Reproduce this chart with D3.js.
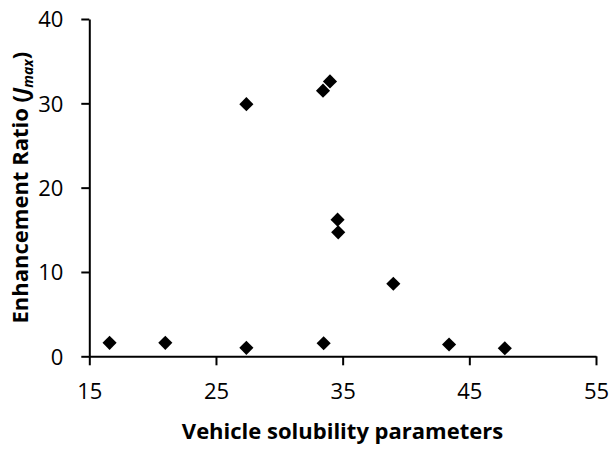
<!DOCTYPE html>
<html>
<head>
<meta charset="utf-8">
<script src="https://cdn.jsdelivr.net/npm/d3@7"></script>
<style>
  html, body { margin: 0; padding: 0; background: #fff; }
  svg { display: block; }
  text { font-family: "Open Sans", "Noto Sans", sans-serif; fill: #000; }
</style>
</head>
<body>
<svg id="chart" width="613" height="450"></svg>
<script>
// Vehicle solubility parameter vs. enhancement ratio (Jmax)
const solubility = [16.6, 21.0, 27.4, 27.4, 33.45, 34.0, 34.6, 34.65, 39.0, 33.5, 43.4, 47.8];
const enhancement = [1.6, 1.6, 1.0, 29.9, 31.5, 32.6, 16.2, 14.7, 8.6, 1.55, 1.4, 0.95];
const xTicks = [15, 25, 35, 45, 55];
const yTicks = [0, 10, 20, 30, 40];

const svg = d3.select("#chart");
const margin = { left: 89.3, right: 17, top: 19, bottom: 93.7 };
const W = 613, H = 450;

const x = d3.scaleLinear().domain([15, 55]).range([margin.left, W - margin.right]);
const y = d3.scaleLinear().domain([0, 40]).range([H - margin.bottom, margin.top]);

// x axis
const xAxis = svg.append("g")
  .attr("transform", `translate(0,${y(0)})`)
  .call(d3.axisBottom(x).tickValues(xTicks).tickSize(9).tickSizeOuter(0).tickPadding(18));
// y axis
const yAxis = svg.append("g")
  .attr("transform", `translate(${x(15)},0)`)
  .call(d3.axisLeft(y).tickValues(yTicks).tickSize(8).tickSizeOuter(0).tickPadding(18));

[xAxis, yAxis].forEach(g => {
  g.selectAll(".domain").attr("stroke", "#000").attr("stroke-width", 2);
  g.selectAll(".tick line").attr("stroke", "#000").attr("stroke-width", 2);
  g.selectAll(".tick text")
    .style("font-family", '"Open Sans", "Noto Sans", sans-serif')
    .attr("font-size", 22)
    .attr("fill", "#000");
});
xAxis.selectAll(".tick text").attr("dy", "0.71em");
yAxis.selectAll(".tick text").attr("dy", "0.35em");

// diamond markers
const diamond = d3.symbol().type(d3.symbolSquare).size(100);
svg.append("g").selectAll("path")
  .data(solubility.map((s, i) => [s, enhancement[i]]))
  .join("path")
  .attr("d", diamond)
  .attr("transform", d => `translate(${x(d[0])},${y(d[1])}) rotate(45)`)
  .attr("fill", "#000");

// axis titles
svg.append("text")
  .attr("x", 342.5)
  .attr("y", 439)
  .attr("text-anchor", "middle")
  .attr("font-weight", "bold")
  .attr("font-size", 22)
  .text("Vehicle solubility parameters");

const yt = svg.append("text")
  .attr("transform", `translate(28,${(y(0) + y(40)) / 2}) rotate(-90)`)
  .attr("text-anchor", "middle")
  .attr("font-weight", "bold")
  .attr("font-size", 22);
yt.append("tspan").text("Enhancement Ratio (");
yt.append("tspan").attr("font-style", "italic").text("J");
yt.append("tspan").attr("font-style", "italic").attr("font-size", 14).attr("dy", 5).text("max");
yt.append("tspan").attr("dy", -5).text(")");
</script>
</body>
</html>
